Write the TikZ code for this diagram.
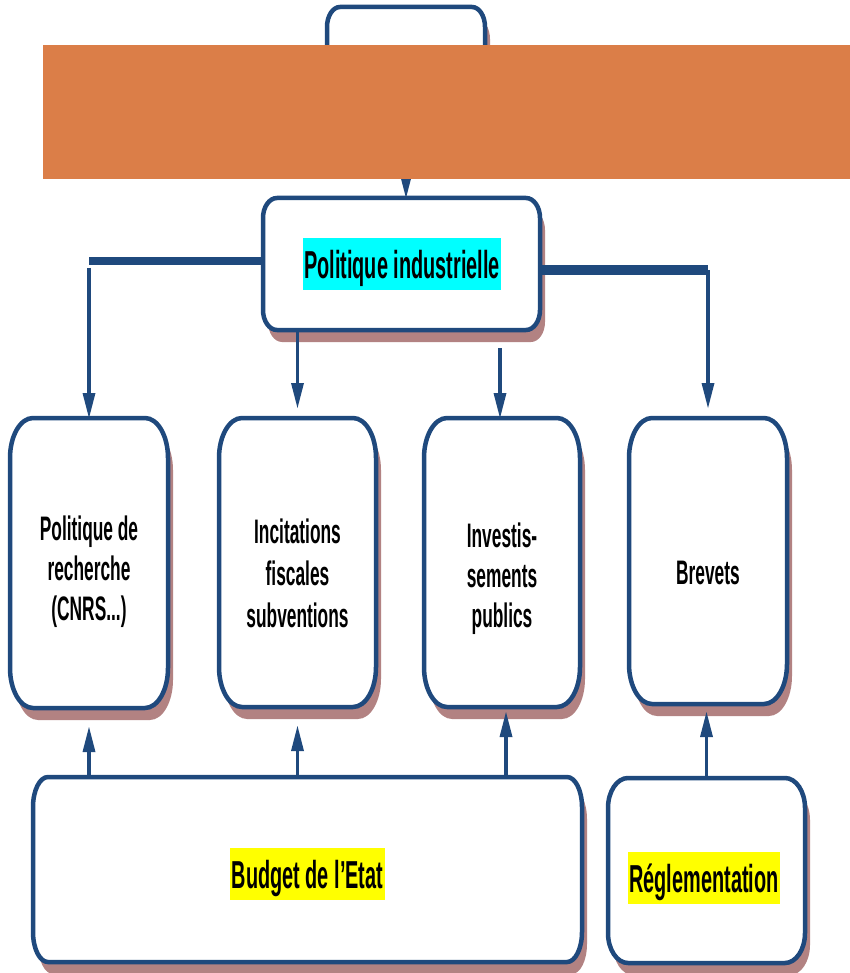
\documentclass[tikz,border=0pt]{standalone}
\usepackage{fontspec}
\setmainfont{Liberation Sans}[FakeStretch=0.51]
\usetikzlibrary{arrows.meta}
\definecolor{framec}{RGB}{31,73,125}
\definecolor{shadowc}{RGB}{178,130,130}
\definecolor{orangec}{RGB}{219,126,72}
\definecolor{hlcyan}{RGB}{0,255,255}
\definecolor{hlyellow}{RGB}{255,255,0}
\pgfdeclarelayer{background}
\pgfsetlayers{background,main}
\tikzset{
  frame/.style={draw=framec, line width=4.5pt, fill=white},
  anchorbox/.style={draw=none, rectangle, inner sep=0pt, outer sep=0pt},
  conn/.style={draw=framec, line width=3.5pt, -{Triangle[length=25pt,width=13pt,line width=0pt]}},
  bar/.style={draw=framec, line width=#1},
  hl/.style={font=\bfseries\fontsize{39}{45}\selectfont, inner xsep=1.5pt, inner ysep=3pt,
             text height=37pt, text depth=9pt, anchor=base},
  txt/.style={align=center, inner sep=0pt, text=black},
}
% name, x1, y1, x2, y2 (pixels, y downwards), rx, ry
\newcommand\ebox[7]{%
  \begin{pgfonlayer}{background}
    \fill[shadowc] (#2+#6+5,-#3-12) -- (#4-#6+5,-#3-12)
      arc[start angle=90,end angle=0,x radius=#6pt,y radius=#7pt]
      -- (#4+5,-#5+#7-12)
      arc[start angle=0,end angle=-90,x radius=#6pt,y radius=#7pt]
      -- (#2+#6+5,-#5-12)
      arc[start angle=270,end angle=180,x radius=#6pt,y radius=#7pt]
      -- (#2+5,-#3-#7-12)
      arc[start angle=180,end angle=90,x radius=#6pt,y radius=#7pt] -- cycle;
    \path[frame] (#2+#6,-#3) -- (#4-#6,-#3)
      arc[start angle=90,end angle=0,x radius=#6pt,y radius=#7pt]
      -- (#4,-#5+#7)
      arc[start angle=0,end angle=-90,x radius=#6pt,y radius=#7pt]
      -- (#2+#6,-#5)
      arc[start angle=270,end angle=180,x radius=#6pt,y radius=#7pt]
      -- (#2,-#3-#7)
      arc[start angle=180,end angle=90,x radius=#6pt,y radius=#7pt] -- cycle;
  \end{pgfonlayer}
  \node[anchorbox, minimum width={#4-#2}, minimum height={#5-#3}] (#1) at ({(#2+#4)/2},{-(#3+#5)/2}) {};
}
\begin{document}
\begin{tikzpicture}[x=1pt,y=1pt]
\useasboundingbox (0,0) rectangle (850,-973);
% boxes
\ebox{tb}{327}{7}{485}{160}{13}{20}
\ebox{pi}{263}{198}{540}{330}{14}{20}
\ebox{b1}{10}{418}{168}{708}{23}{40}
\ebox{b2}{219}{418}{376}{707}{23}{40}
\ebox{b3}{424}{418}{580}{707}{23}{40}
\ebox{b4}{629}{418}{787}{704}{23}{40}
\ebox{bud}{33}{777}{582}{962}{15}{30}
\ebox{reg}{608}{778}{805}{963}{20}{30}
% texts
\node[hl, fill=hlcyan] (pit) at (402,-278) {Politique industrielle};
\node[hl, fill=hlyellow] (budt) at (307.5,-888) {Budget de l’Etat};
\node[hl, fill=hlyellow] (regt) at (704,-892) {Réglementation};
\node[txt, font=\bfseries\fontsize{34}{40}\selectfont] (b1t) at (89,-571.5) {Politique de\\recherche\\(CNRS...)};
\node[txt, font=\bfseries\fontsize{34}{42}\selectfont] (b2t) at (297.5,-573) {Incitations\\fiscales\\subventions};
\node[txt, font=\bfseries\fontsize{34}{40}\selectfont] (b3t) at (502,-578.5) {Investis-\\sements\\publics};
\node[txt, font=\bfseries\fontsize{34}{40}\selectfont] (b4t) at (708,-573) {Brevets};
% connectors
\draw[conn] (tb.south) -- (tb.south |- pi.north);
\draw[bar=8pt] ([yshift=3pt]pi.west) -- ([yshift=3pt]pi.west -| b1.north);
\draw[conn] ([yshift=-4pt]pi.west -| b1.north) -- (b1.north);
\draw[bar=10pt] ([yshift=-6pt]pi.east) -- ([yshift=-6pt]pi.east -| b4.north);
\draw[conn] ([yshift=-6pt]pi.east -| b4.north) -- ([yshift=10pt]b4.north);
\draw[conn] (pi.south -| b2.north) -- ([yshift=10pt]b2.north);
\draw[conn] ([xshift=-2pt,yshift=-18pt]pi.south -| b3.north) -- ([xshift=-2pt]b3.north);
\draw[conn] (bud.north -| b1.south) -- ([yshift=-19pt]b1.south);
\draw[conn] (bud.north -| b2.south) -- ([yshift=-19pt]b2.south);
\draw[conn] ([xshift=4pt]bud.north -| b3.south) -- ([xshift=4pt,yshift=-5pt]b3.south);
\draw[conn] (reg.north) -- ([yshift=-8pt]reg.north |- b4.south);
% orange overlay
\fill[orangec] (43,-45) rectangle (850,-179);
\end{tikzpicture}
\end{document}
